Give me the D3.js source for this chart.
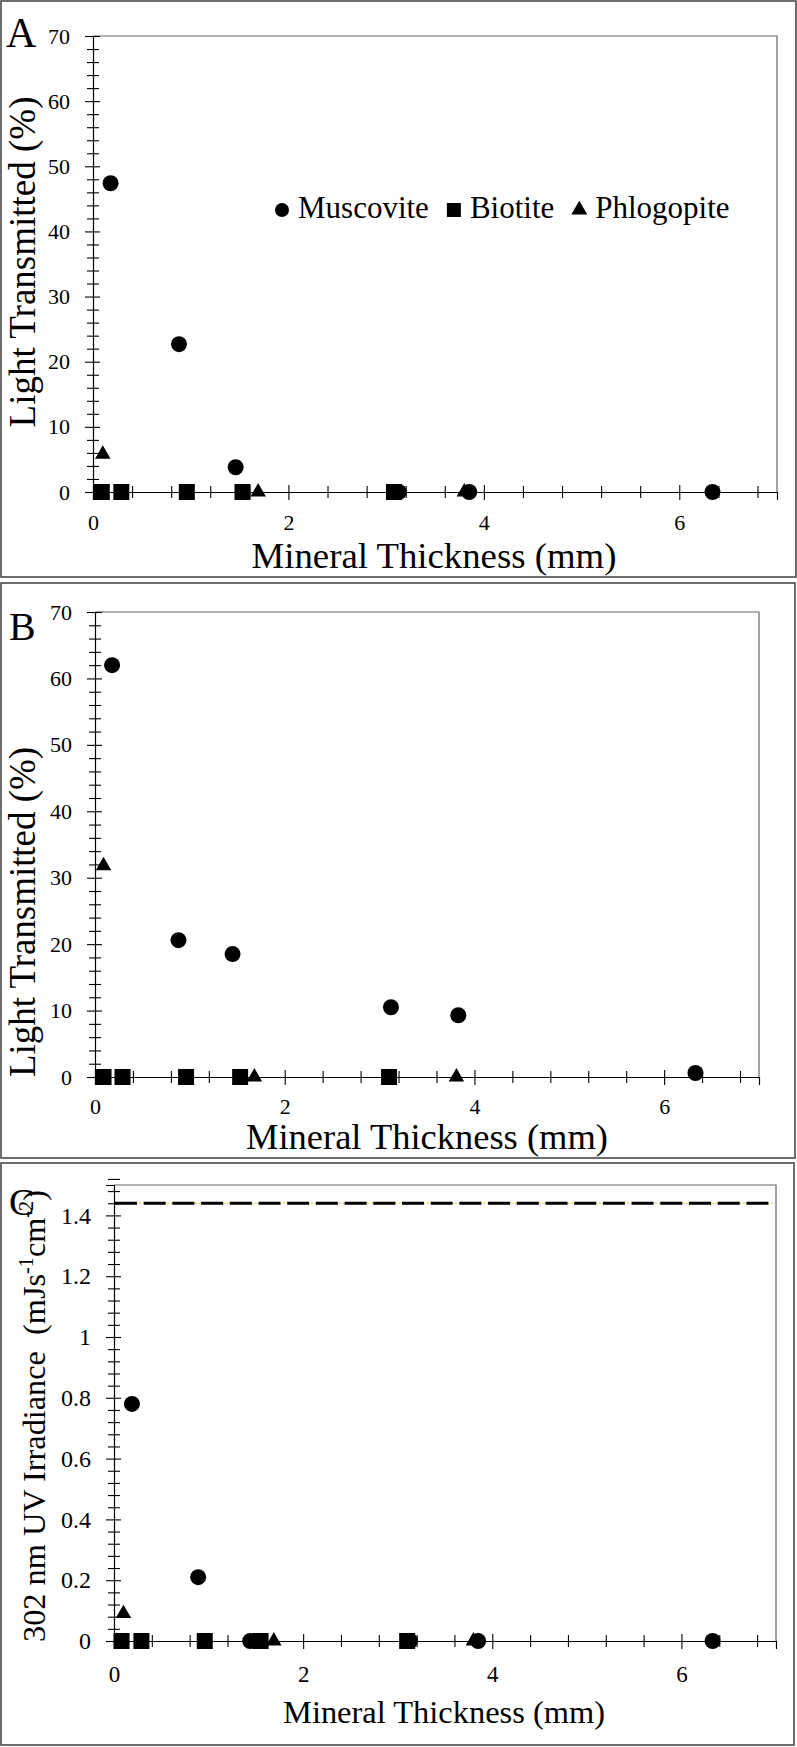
<!DOCTYPE html>
<html><head><meta charset="utf-8">
<script src="https://cdn.jsdelivr.net/npm/d3@7"></script>
<style>
body{margin:0;background:#fff}
svg{display:block}
text, tspan{font-family:"Liberation Serif","Times New Roman",serif !important;fill:#000}
</style>
</head><body>
<svg id="chart" width="797" height="1747"></svg>
<script>
// ---------- DATA ----------
const seriesNames = ["Muscovite", "Biotite", "Phlogopite"];
const xMajorTicks = [0, 2, 4, 6];

// Panel A – light transmitted (%)
const muscoviteA_x = [0.18, 0.88, 1.46, 3.13, 3.85, 6.34];
const muscoviteA_y = [47.4, 22.7, 3.8, 0, 0, 0];
const biotiteA_x = [0.09, 0.29, 0.96, 1.53, 3.08];
const biotiteA_y = [0, 0, 0, 0, 0];
const phlogopiteA_x = [0.10, 1.69, 3.80];
const phlogopiteA_y = [5.8, 0, 0];

// Panel B – light transmitted (%)
const muscoviteB_x = [0.18, 0.88, 1.45, 3.12, 3.83, 6.33];
const muscoviteB_y = [62.0, 20.6, 18.5, 10.5, 9.3, 0.6];
const biotiteB_x = [0.09, 0.29, 0.96, 1.53, 3.10];
const biotiteB_y = [0, 0, 0, 0, 0];
const phlogopiteB_x = [0.09, 1.68, 3.81];
const phlogopiteB_y = [31.8, 0, 0];

// Panel C – 302 nm UV irradiance
const muscoviteC_x = [0.19, 0.89, 1.44, 3.13, 3.85, 6.33];
const muscoviteC_y = [0.78, 0.21, 0, 0, 0, 0];
const biotiteC_x = [0.08, 0.29, 0.96, 1.55, 3.10];
const biotiteC_y = [0, 0, 0, 0, 0];
const phlogopiteC_x = [0.10, 1.69, 3.80];
const phlogopiteC_y = [0.09, 0, 0];
const uvSourceLevelC = 1.44;

// ---------- DRAWING ----------
const svg = d3.select("#chart");
const FONT = '"Liberation Serif","Times New Roman",serif';

const shapes = {
  Muscovite: d3.symbol().type(d3.symbolCircle).size(Math.PI * 8 * 8),
  Biotite: d3.symbol().type(d3.symbolSquare).size(16 * 16),
  Phlogopite: d3.symbol().type(d3.symbolTriangle).size(15.5 * 15.5 * Math.sqrt(3) / 4)
};
const legendShapes = {
  Muscovite: d3.symbol().type(d3.symbolCircle).size(Math.PI * 7 * 7),
  Biotite: d3.symbol().type(d3.symbolSquare).size(14 * 14),
  Phlogopite: d3.symbol().type(d3.symbolTriangle).size(16 * 16 * Math.sqrt(3) / 4)
};

function zip(xs, ys) { return xs.map((x, i) => ({x: x, y: ys[i]})); }

function fitText(sel, baseSize, target) {
  const len = sel.node().getComputedTextLength();
  const k = target / len;
  sel.attr("font-size", baseSize * k);
  sel.selectAll("tspan").each(function () {
    const t = d3.select(this);
    const fs = t.attr("font-size");
    if (fs) t.attr("font-size", +fs * k);
    const dy = t.attr("dy");
    if (dy) t.attr("dy", +dy * k);
  });
}

function drawPanel(cfg) {
  svg.append("rect")
    .attr("x", cfg.box[0]).attr("y", cfg.box[1])
    .attr("width", cfg.box[2]).attr("height", cfg.box[3])
    .attr("fill", "none").attr("stroke", "#4a4a4a").attr("stroke-width", 1.6);

  const x = d3.scaleLinear().domain([0, 7]).range([cfg.left, cfg.right]);
  const y = d3.scaleLinear().domain([0, cfg.yMax]).range([cfg.bottom, cfg.top]);

  svg.append("path")
    .attr("d", `M${cfg.left},${cfg.top}H${cfg.right}V${cfg.bottom}`)
    .attr("fill", "none").attr("stroke", "#666").attr("stroke-width", 1.2);

  // y axis
  const nMinor = Math.round(cfg.yMax / cfg.yMinor);
  const yAll = d3.range(0, nMinor + 1).map(i => +(i * cfg.yMinor).toFixed(4));
  const yMajorSet = yAll.filter(v => Math.abs(v / cfg.yMajorStep - Math.round(v / cfg.yMajorStep)) < 1e-6);
  const yMinor = yAll.filter(v => !yMajorSet.includes(v));

  const gy = svg.append("g").attr("transform", `translate(${cfg.left},0)`);
  gy.call(d3.axisLeft(y).tickValues(yMajorSet).tickSize(8).tickPadding(15)
      .tickFormat(v => String(+v.toFixed(2))));
  gy.attr("font-family", FONT).style("font-family", FONT);
  gy.select(".domain").attr("stroke", "#000").attr("stroke-width", 1.2);
  gy.selectAll(".tick line").attr("x1", 7).attr("x2", -8).attr("stroke", "#000").attr("stroke-width", 1.1);
  gy.selectAll(".tick text").attr("font-size", cfg.yTickFont).style("font-family", FONT).attr("fill", "#000");
  const gym = svg.append("g").attr("transform", `translate(${cfg.left},0)`);
  gym.call(d3.axisLeft(y).tickValues(yMinor).tickSize(6).tickFormat(""));
  gym.select(".domain").remove();
  gym.selectAll(".tick line").attr("x1", 6).attr("x2", -6).attr("stroke", "#000").attr("stroke-width", 1.1);

  // x axis
  const xMinor = d3.range(0, 18).map(i => +(i * 0.4).toFixed(2)).filter(v => !xMajorTicks.includes(v));
  const gx = svg.append("g").attr("transform", `translate(0,${cfg.bottom})`);
  gx.call(d3.axisBottom(x).tickValues(xMajorTicks).tickSize(8).tickFormat(d3.format("d")));
  gx.attr("font-family", FONT).style("font-family", FONT);
  gx.select(".domain").attr("stroke", "#000").attr("stroke-width", 1.2);
  gx.selectAll(".tick line").attr("y1", -7).attr("y2", 8).attr("stroke", "#000").attr("stroke-width", 1.1);
  gx.selectAll(".tick text").attr("font-size", cfg.xTickFont).style("font-family", FONT)
    .attr("fill", "#000").attr("dy", null).attr("y", cfg.xTickY);
  const gxm = svg.append("g").attr("transform", `translate(0,${cfg.bottom})`);
  gxm.call(d3.axisBottom(x).tickValues(xMinor).tickSize(6).tickFormat(""));
  gxm.select(".domain").remove();
  gxm.selectAll(".tick line").attr("y1", -6).attr("y2", 6).attr("stroke", "#000").attr("stroke-width", 1.1);

  if (cfg.refLine !== undefined) {
    const ry = y(cfg.refLine);
    svg.append("line").attr("x1", cfg.left + 1).attr("x2", cfg.right - 4)
      .attr("y1", ry).attr("y2", ry)
      .attr("stroke", "#e9d27a").attr("stroke-width", 1.6).attr("stroke-dasharray", "2,2");
    svg.append("line").attr("x1", cfg.left + 1).attr("x2", cfg.right - 4)
      .attr("y1", ry).attr("y2", ry)
      .attr("stroke", "#000").attr("stroke-width", 3).attr("stroke-dasharray", "22,6.7");
  }

  cfg.series.forEach(s => {
    svg.append("g").selectAll("path").data(zip(s.xs, s.ys)).join("path")
      .attr("d", shapes[s.name]())
      .attr("transform", d => `translate(${x(d.x)},${y(d.y)})`)
      .attr("fill", "#000");
  });

  svg.append("text").attr("x", cfg.letter[1]).attr("y", cfg.letter[2])
    .attr("font-size", cfg.letter[3]).text(cfg.letter[0]);

  const xt = svg.append("text").attr("x", cfg.xTitle[0]).attr("y", cfg.xTitle[1])
    .attr("text-anchor", "middle").attr("font-size", cfg.xTitle[2])
    .text("Mineral Thickness (mm)");
  fitText(xt, cfg.xTitle[2], cfg.xTitle[3]);

  const yt = svg.append("text")
    .attr("transform", `translate(${cfg.yTitle[0]},${cfg.yTitle[1]}) rotate(-90)`)
    .attr("text-anchor", "middle").attr("font-size", cfg.yTitle[2]);
  cfg.yTitleParts.forEach(p => {
    const t = yt.append("tspan").text(p.t);
    if (p.fs) t.attr("font-size", p.fs);
    if (p.dy) t.attr("dy", p.dy);
  });
  fitText(yt, cfg.yTitle[2], cfg.yTitle[3]);

  return {x, y};
}

// Panel A
drawPanel({
  box: [1, 1, 795, 576],
  left: 93, right: 777, top: 36, bottom: 492,
  yMax: 70, yMajorStep: 10, yMinor: 2, yTickFont: 22, xTickFont: 22, xTickY: 38,
  letter: ["A", 6, 47, 42],
  xTitle: [434, 568, 36, 365],
  yTitle: [35, 262, 36, 331],
  yTitleParts: [{t: "Light Transmitted (%)"}],
  series: [
    {name: "Phlogopite", xs: phlogopiteA_x, ys: phlogopiteA_y},
    {name: "Biotite", xs: biotiteA_x, ys: biotiteA_y},
    {name: "Muscovite", xs: muscoviteA_x, ys: muscoviteA_y}
  ]
});

// Legend (panel A)
(function () {
  const ly = 210, baseline = 218;
  let cx = 282;
  const g = svg.append("g");
  seriesNames.forEach(name => {
    g.append("path").attr("d", legendShapes[name]())
      .attr("transform", `translate(${cx},${ly})`).attr("fill", "#000");
    const t = g.append("text").attr("x", cx + 16).attr("y", baseline)
      .attr("font-size", 31).text(name);
    const w = t.node().getComputedTextLength();
    cx = cx + 16 + w + 25;
  });
})();

// Panel B
drawPanel({
  box: [1, 583, 794, 575],
  left: 95, right: 759, top: 612, bottom: 1077,
  yMax: 70, yMajorStep: 10, yMinor: 2, yTickFont: 22, xTickFont: 22, xTickY: 37,
  letter: ["B", 9, 640, 40],
  xTitle: [427, 1149, 36, 362],
  yTitle: [35, 912, 36, 330],
  yTitleParts: [{t: "Light Transmitted (%)"}],
  series: [
    {name: "Phlogopite", xs: phlogopiteB_x, ys: phlogopiteB_y},
    {name: "Biotite", xs: biotiteB_x, ys: biotiteB_y},
    {name: "Muscovite", xs: muscoviteB_x, ys: muscoviteB_y}
  ]
});

// Panel C
drawPanel({
  box: [1, 1163, 793, 582],
  left: 114, right: 776, top: 1185, bottom: 1641,
  yMax: 1.5, yMajorStep: 0.2, yMinor: 0.04, yTickFont: 24, xTickFont: 23, xTickY: 41,
  letter: ["C", 9, 1215, 38],
  xTitle: [444, 1723, 32, 322],
  yTitle: [45, 1416, 32, 452],
  yTitleParts: [
    {t: "302 nm UV Irradiance\u00A0\u00A0(mJs"},
    {t: "-1", fs: 20, dy: -12},
    {t: "cm", fs: 32, dy: 12},
    {t: "-2", fs: 20, dy: -12},
    {t: ")", fs: 32, dy: 12}
  ],
  refLine: uvSourceLevelC,
  series: [
    {name: "Phlogopite", xs: phlogopiteC_x, ys: phlogopiteC_y},
    {name: "Biotite", xs: biotiteC_x, ys: biotiteC_y},
    {name: "Muscovite", xs: muscoviteC_x, ys: muscoviteC_y}
  ]
});
</script>
</body></html>
